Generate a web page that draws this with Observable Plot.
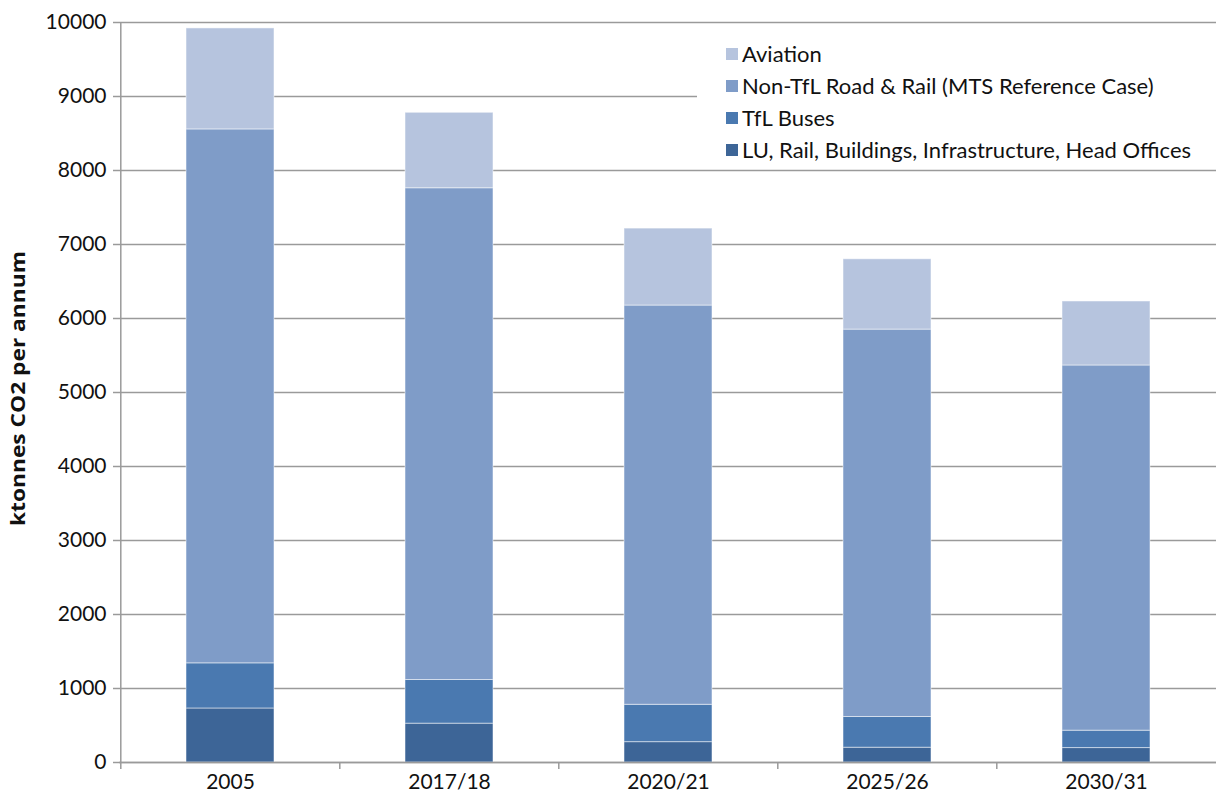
<!DOCTYPE html>
<html>
<head>
<meta charset="utf-8">
<script src="https://cdn.jsdelivr.net/npm/d3@7"></script>
<script src="https://cdn.jsdelivr.net/npm/@observablehq/plot@0.6"></script>
<style>
  body { margin: 0; background: #fff; }
  #wrap { position: relative; width: 1216px; height: 801px; font-family: Lato, "Open Sans", sans-serif; }
  #legend { position: absolute; left: 697px; top: 36px; width: 519px; height: 130px; background: #fff; }
  .item { position: absolute; left: 29px; display: flex; align-items: center; font-size: 22px; color: #111; white-space: nowrap; }
  .sw { width: 12px; height: 12px; margin-right: 4px; }
</style>
</head>
<body>
<div id="wrap"></div>
<script>
const years = ["2005", "2017/18", "2020/21", "2025/26", "2030/31"];
const series = ["LU, Rail, Buildings, Infrastructure, Head Offices", "TfL Buses", "Non-TfL Road & Rail (MTS Reference Case)", "Aviation"];
const luRail = [730, 525, 275, 200, 195];
const tflBuses = [610, 590, 505, 415, 235];
const nonTfl = [7215, 6645, 5395, 5235, 4935];
const aviation = [1365, 1020, 1040, 950, 865];
const colors = ["#3d6597", "#4a79b0", "#7f9cc8", "#b6c4de"];
const yTicks = [0, 1000, 2000, 3000, 4000, 5000, 6000, 7000, 8000, 9000, 10000];
const yLabel = "ktonnes CO2 per annum";

const valuesBySeries = [luRail, tflBuses, nonTfl, aviation];
const data = [];
series.forEach((s, i) => years.forEach((y, j) => data.push({year: y, series: s, value: valuesBySeries[i][j]})));

const W = 1216, H = 801, mL = 119, mR = 0;
const bandStep = (W - mL - mR) / years.length;
const labelLen = 275;

const chart = Plot.plot({
  width: W,
  height: H,
  marginLeft: mL,
  marginRight: mR,
  marginTop: 22,
  marginBottom: 39,
  style: {fontFamily: "Lato, 'Open Sans', sans-serif", fontSize: "22px", color: "#111", background: "#fff"},
  x: {domain: years, paddingInner: 0.6, paddingOuter: 0.3, align: 0.5, label: null},
  y: {domain: [0, 10000], ticks: yTicks, label: null},
  color: {domain: series, range: colors},
  marks: [
    Plot.gridY(yTicks, {stroke: "#9a9a9a", strokeOpacity: 1, strokeWidth: 1.5}),
    Plot.barY(data, {x: "year", y: "value", fill: "series", order: series, stroke: "#ffffff", strokeOpacity: 0.5, strokeWidth: 1}),
    Plot.ruleY([0], {stroke: "#9a9a9a", strokeWidth: 1.5}),
    Plot.ruleX([years[0]], {dx: -bandStep / 2, y1: 0, y2: 10000, stroke: "#9a9a9a", strokeWidth: 1.5}),
    Plot.axisY(yTicks, {tickSize: 6, tickPadding: 7, stroke: "#9a9a9a", strokeWidth: 1.5, fill: "#111", fontSize: 21, tickFormat: d => String(d), label: null}),
    Plot.axisX({tickSize: 0, tickPadding: 12, fontSize: 21, fill: "#111", label: null}),
    Plot.axisX({tickSize: 7, tickFormat: () => "", dx: -bandStep / 2, stroke: "#9a9a9a", strokeWidth: 1.5, label: null}),
    Plot.text([yLabel], {frameAnchor: "left", dx: -101, dy: -4, rotate: -90, textAnchor: "start", fontWeight: "bold", fontSize: 19, fontFamily: "'Open Sans', sans-serif", fill: "#111", className: "ylab"})
  ]
});

d3.select(chart).selectAll(".ylab text")
  .attr("x", -labelLen / 2)
  .attr("textLength", labelLen)
  .attr("lengthAdjust", "spacingAndGlyphs");

const wrap = document.getElementById("wrap");
wrap.appendChild(chart);
const legend = document.createElement("div");
legend.id = "legend";
const legendOrder = [3, 2, 1, 0];
legendOrder.forEach((idx, k) => {
  const it = document.createElement("div");
  it.className = "item";
  it.style.top = (4 + k * 32) + "px";
  const sw = document.createElement("span");
  sw.className = "sw";
  sw.style.background = colors[idx];
  const tx = document.createElement("span");
  tx.textContent = series[idx];
  it.appendChild(sw);
  it.appendChild(tx);
  legend.appendChild(it);
});
wrap.appendChild(legend);
</script>
</body>
</html>
